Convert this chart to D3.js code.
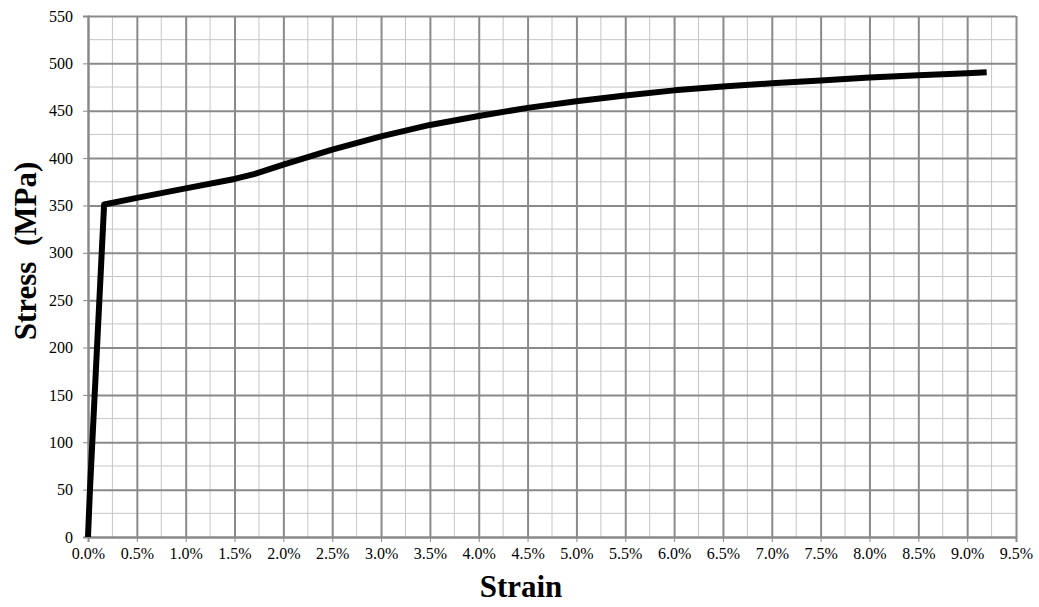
<!DOCTYPE html>
<html>
<head>
<meta charset="utf-8">
<script src="https://cdn.jsdelivr.net/npm/d3@7"></script>
<style>
  body { margin: 0; background: #fff; }
  text { font-family: "Liberation Serif", "Times New Roman", serif; }
</style>
</head>
<body>
<script>
// strain (fraction) and stress (MPa)
var strain = [0, 0.0002, 0.00165, 0.005, 0.010, 0.015, 0.017, 0.020, 0.025, 0.030, 0.035, 0.040, 0.045, 0.050, 0.055, 0.060, 0.065, 0.070, 0.075, 0.080, 0.085, 0.090, 0.092];
var stress = [0, 50, 351, 358, 368, 378, 383, 393, 409, 423, 435, 444.5, 453, 460, 466, 471.5, 475.5, 479, 482, 485, 487.5, 489.5, 490.5];
var xTicks = d3.range(0, 0.0951, 0.005);
var yTicks = d3.range(0, 551, 50);

var width = 1039, height = 607;
var margin = { top: 16, right: 23, bottom: 70, left: 88 };
var w = width - margin.left - margin.right;
var h = height - margin.top - margin.bottom;

var svg = d3.select("body").append("svg")
    .attr("width", width)
    .attr("height", height);

var chart = svg.append("g")
    .attr("transform", "translate(" + margin.left + "," + margin.top + ")");

var x = d3.scaleLinear().domain([0, 0.095]).range([0, w]);
var y = d3.scaleLinear().domain([0, 550]).range([h, 0]);

// minor grid (half steps)
var xMinor = d3.range(0.0025, 0.095, 0.005);
var yMinor = d3.range(25, 550, 50);

chart.append("g").selectAll("line")
    .data(xMinor).enter().append("line")
    .attr("x1", d => x(d)).attr("x2", d => x(d))
    .attr("y1", 0).attr("y2", h)
    .attr("stroke", "#c6c6c6").attr("stroke-width", 1);

chart.append("g").selectAll("line")
    .data(yMinor).enter().append("line")
    .attr("y1", d => y(d)).attr("y2", d => y(d))
    .attr("x1", 0).attr("x2", w)
    .attr("stroke", "#c6c6c6").attr("stroke-width", 1);

// major grid
chart.append("g")
    .attr("class", "grid")
    .attr("transform", "translate(0," + h + ")")
    .call(d3.axisBottom(x).tickValues(xTicks).tickSize(-h).tickFormat(""))
    .call(g => g.select(".domain").remove())
    .selectAll("line").attr("stroke", "#8a8a8a").attr("stroke-width", 2);

chart.append("g")
    .attr("class", "grid")
    .call(d3.axisLeft(y).tickValues(yTicks).tickSize(-w).tickFormat(""))
    .call(g => g.select(".domain").remove())
    .selectAll("line").attr("stroke", "#8a8a8a").attr("stroke-width", 2);

// axes
var xAxis = chart.append("g")
    .attr("transform", "translate(0," + h + ")")
    .call(d3.axisBottom(x).tickValues(xTicks).tickSize(5).tickPadding(6).tickFormat(d3.format(".1%")));
xAxis.select(".domain").attr("stroke", "#8a8a8a").attr("stroke-width", 2);
xAxis.selectAll("line").attr("stroke", "#8a8a8a");
xAxis.selectAll("text").attr("font-size", 16).attr("fill", "#000")
    .style("font-family", "'Liberation Serif', serif");

var yAxis = chart.append("g")
    .call(d3.axisLeft(y).tickValues(yTicks).tickSize(5).tickPadding(10));
yAxis.select(".domain").attr("stroke", "#8a8a8a").attr("stroke-width", 2);
yAxis.selectAll("line").attr("stroke", "#8a8a8a");
yAxis.selectAll("text").attr("font-size", 16).attr("fill", "#000")
    .style("font-family", "'Liberation Serif', serif");

// the stress-strain curve
var pts = strain.map((s, i) => [s, stress[i]]);
chart.append("path")
    .datum(pts)
    .attr("fill", "none")
    .attr("stroke", "#000")
    .attr("stroke-width", 6)
    .attr("stroke-linejoin", "round")
    .attr("d", d3.line().x(d => x(d[0])).y(d => y(d[1])));

// axis titles
svg.append("text")
    .attr("x", 521)
    .attr("y", 597)
    .attr("text-anchor", "middle")
    .attr("font-size", 31)
    .attr("font-weight", "bold")
    .text("Strain");

svg.append("text")
    .attr("transform", "translate(36,251) rotate(-90)")
    .attr("text-anchor", "middle")
    .attr("font-size", 31)
    .attr("font-weight", "bold")
    .attr("xml:space", "preserve")
    .style("white-space", "pre")
    .text("Stress  (MPa)");
</script>
</body>
</html>
